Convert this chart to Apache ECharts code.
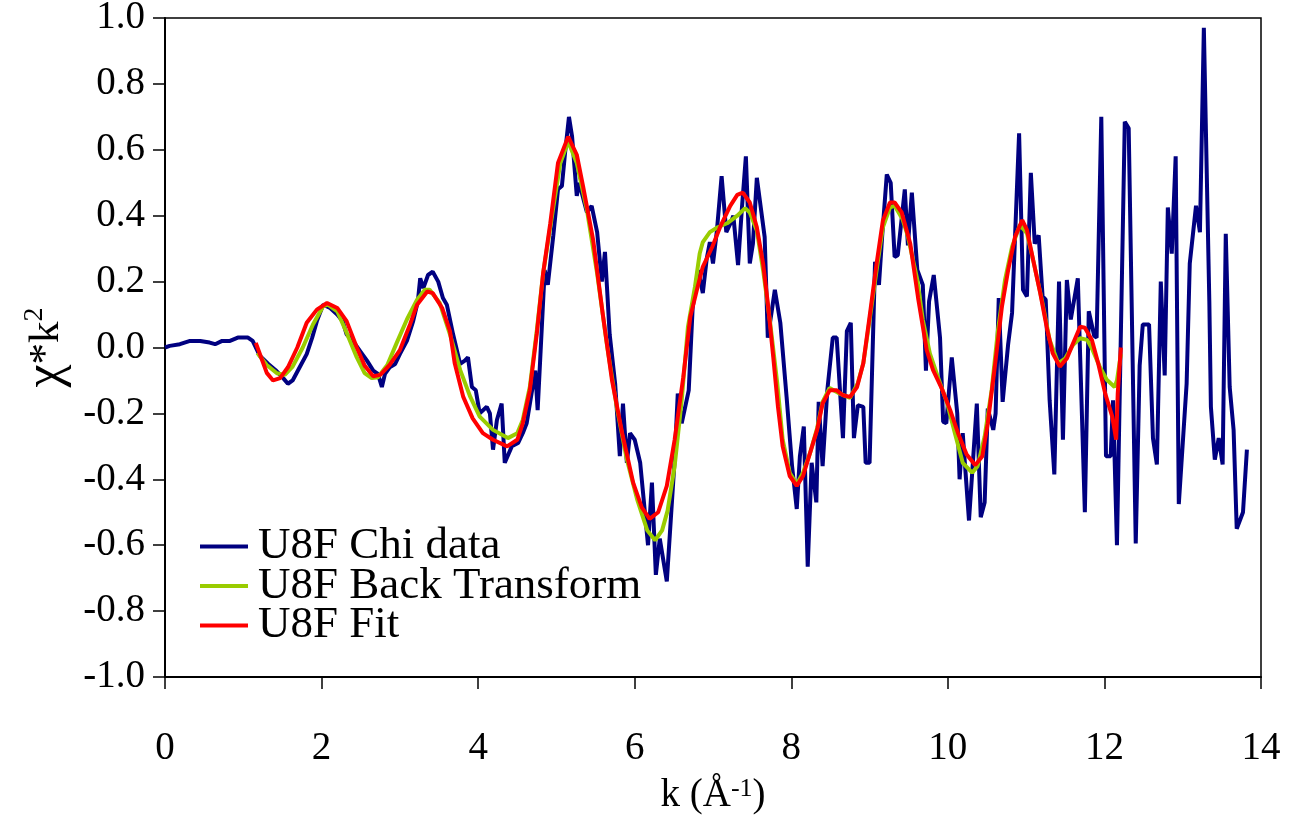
<!DOCTYPE html>
<html>
<head>
<meta charset="utf-8">
<script src="https://cdn.jsdelivr.net/npm/echarts@6/dist/echarts.min.js"></script>
<style>
html,body{margin:0;padding:0;background:#fff;overflow:hidden;}
#chart{width:1289px;height:816px;}
</style>
</head>
<body>
<div id="chart"></div>
<script>
// k (1/Å), chi*k^2
const chiData = [[0,0],[0.06,0.005],[0.19,0.01],[0.32,0.02],[0.45,0.02],[0.57,0.015],[0.64,0.01],[0.73,0.02],[0.83,0.02],[0.93,0.03],[1.06,0.03],[1.12,0.02],[1.21,-0.025],[1.32,-0.05],[1.41,-0.068],[1.51,-0.093],[1.57,-0.11],[1.63,-0.10],[1.72,-0.06],[1.81,-0.02],[1.88,0.03],[1.94,0.08],[2.02,0.13],[2.11,0.12],[2.20,0.10],[2.27,0.08],[2.32,0.04],[2.40,0.02],[2.49,-0.01],[2.58,-0.04],[2.66,-0.07],[2.72,-0.08],[2.77,-0.12],[2.81,-0.08],[2.87,-0.06],[2.94,-0.05],[3.00,-0.02],[3.09,0.02],[3.17,0.08],[3.23,0.14],[3.26,0.21],[3.30,0.18],[3.36,0.22],[3.42,0.23],[3.49,0.20],[3.55,0.15],[3.60,0.13],[3.68,0.04],[3.77,-0.05],[3.83,-0.04],[3.87,-0.03],[3.92,-0.12],[3.97,-0.13],[4.02,-0.20],[4.11,-0.18],[4.15,-0.20],[4.19,-0.31],[4.24,-0.22],[4.30,-0.17],[4.34,-0.35],[4.43,-0.30],[4.51,-0.29],[4.57,-0.26],[4.62,-0.23],[4.73,-0.07],[4.76,-0.19],[4.85,0.235],[4.89,0.19],[4.96,0.34],[5.02,0.48],[5.07,0.49],[5.11,0.59],[5.16,0.70],[5.20,0.64],[5.26,0.46],[5.29,0.50],[5.39,0.41],[5.45,0.43],[5.52,0.35],[5.58,0.20],[5.62,0.29],[5.68,0.04],[5.75,-0.11],[5.81,-0.33],[5.85,-0.17],[5.90,-0.35],[5.94,-0.26],[6.00,-0.28],[6.07,-0.35],[6.17,-0.60],[6.22,-0.41],[6.27,-0.69],[6.32,-0.58],[6.41,-0.71],[6.51,-0.34],[6.55,-0.14],[6.60,-0.23],[6.69,-0.13],[6.74,0.12],[6.81,0.235],[6.87,0.165],[6.92,0.27],[6.96,0.32],[7.00,0.255],[7.05,0.355],[7.11,0.52],[7.17,0.35],[7.22,0.375],[7.26,0.40],[7.32,0.25],[7.37,0.425],[7.42,0.58],[7.47,0.255],[7.51,0.315],[7.56,0.515],[7.66,0.335],[7.70,0.03],[7.79,0.175],[7.86,0.075],[7.94,-0.15],[8.01,-0.36],[8.07,-0.49],[8.11,-0.33],[8.16,-0.24],[8.21,-0.665],[8.26,-0.35],[8.32,-0.47],[8.35,-0.165],[8.40,-0.36],[8.46,-0.13],[8.53,0.03],[8.58,0.03],[8.66,-0.275],[8.71,0.05],[8.76,0.075],[8.80,-0.275],[8.85,-0.175],[8.92,-0.18],[8.95,-0.35],[9.00,-0.35],[9.07,0.26],[9.12,0.19],[9.16,0.335],[9.22,0.525],[9.27,0.50],[9.32,0.275],[9.36,0.28],[9.45,0.48],[9.49,0.31],[9.54,0.47],[9.61,0.235],[9.68,0.19],[9.72,-0.07],[9.76,0.14],[9.82,0.22],[9.90,0.03],[9.94,-0.225],[9.98,-0.23],[10.05,-0.03],[10.12,-0.20],[10.15,-0.40],[10.19,-0.26],[10.27,-0.525],[10.37,-0.17],[10.42,-0.515],[10.47,-0.47],[10.51,-0.185],[10.58,-0.25],[10.61,-0.20],[10.65,0.15],[10.70,-0.165],[10.77,0.01],[10.82,0.105],[10.91,0.65],[10.96,0.175],[11.01,0.155],[11.06,0.53],[11.11,0.315],[11.16,0.34],[11.21,0.155],[11.25,0.145],[11.30,-0.16],[11.36,-0.385],[11.42,0.20],[11.47,-0.28],[11.52,0.205],[11.57,0.085],[11.66,0.21],[11.75,-0.50],[11.80,0.11],[11.87,0.035],[11.90,0.03],[11.96,0.70],[12.02,-0.33],[12.08,-0.33],[12.11,-0.16],[12.16,-0.60],[12.26,0.685],[12.31,0.665],[12.40,-0.595],[12.45,-0.055],[12.49,0.07],[12.57,0.07],[12.62,-0.275],[12.67,-0.355],[12.72,0.20],[12.77,-0.085],[12.81,0.425],[12.86,0.285],[12.91,0.58],[12.95,-0.475],[13.05,-0.11],[13.09,0.255],[13.17,0.43],[13.22,0.35],[13.27,0.97],[13.34,0.14],[13.36,-0.18],[13.41,-0.34],[13.46,-0.275],[13.51,-0.355],[13.55,0.345],[13.60,-0.12],[13.65,-0.25],[13.69,-0.55],[13.77,-0.50],[13.82,-0.31]];

const backData = [[1.18,-0.017],[1.30,-0.053],[1.43,-0.078],[1.53,-0.083],[1.63,-0.058],[1.76,0.0],[1.89,0.07],[2.02,0.125],[2.08,0.13],[2.20,0.11],[2.32,0.045],[2.45,-0.03],[2.55,-0.078],[2.64,-0.093],[2.72,-0.09],[2.84,-0.053],[2.96,0.014],[3.09,0.085],[3.22,0.145],[3.32,0.175],[3.38,0.175],[3.51,0.135],[3.64,0.04],[3.77,-0.068],[3.90,-0.15],[4.02,-0.21],[4.19,-0.25],[4.38,-0.275],[4.50,-0.26],[4.57,-0.22],[4.66,-0.12],[4.75,0.053],[4.83,0.225],[4.96,0.425],[5.05,0.56],[5.15,0.625],[5.26,0.56],[5.39,0.417],[5.52,0.225],[5.65,0.0],[5.77,-0.18],[5.90,-0.34],[6.03,-0.46],[6.16,-0.555],[6.26,-0.585],[6.35,-0.555],[6.42,-0.495],[6.51,-0.36],[6.60,-0.16],[6.68,0.063],[6.77,0.185],[6.83,0.285],[6.87,0.32],[6.96,0.35],[7.06,0.365],[7.18,0.377],[7.31,0.40],[7.41,0.423],[7.47,0.41],[7.56,0.355],[7.64,0.235],[7.73,0.075],[7.82,-0.107],[7.89,-0.28],[7.98,-0.38],[8.07,-0.415],[8.15,-0.38],[8.24,-0.32],[8.33,-0.245],[8.40,-0.165],[8.49,-0.123],[8.62,-0.14],[8.75,-0.153],[8.85,-0.108],[8.92,-0.048],[9.00,0.083],[9.09,0.235],[9.17,0.365],[9.26,0.425],[9.32,0.43],[9.42,0.39],[9.49,0.337],[9.61,0.205],[9.68,0.084],[9.77,-0.018],[9.87,-0.088],[9.99,-0.168],[10.09,-0.26],[10.19,-0.35],[10.31,-0.38],[10.38,-0.36],[10.47,-0.27],[10.56,-0.128],[10.64,0.053],[10.73,0.205],[10.82,0.305],[10.92,0.372],[11.01,0.347],[11.09,0.265],[11.20,0.145],[11.30,0.023],[11.41,-0.048],[11.50,-0.033],[11.60,0.008],[11.69,0.028],[11.78,0.023],[11.85,-0.008],[11.94,-0.058],[12.03,-0.098],[12.13,-0.12],[12.16,-0.10],[12.21,-0.02]];

const fitData = [[1.16,0.014],[1.24,-0.038],[1.30,-0.077],[1.38,-0.10],[1.47,-0.093],[1.57,-0.06],[1.69,0.0],[1.81,0.075],[1.94,0.115],[2.07,0.135],[2.20,0.12],[2.32,0.08],[2.45,0.0],[2.55,-0.055],[2.66,-0.087],[2.75,-0.083],[2.87,-0.053],[3.00,-0.008],[3.13,0.07],[3.22,0.13],[3.35,0.17],[3.42,0.165],[3.54,0.12],[3.64,0.05],[3.70,-0.047],[3.81,-0.15],[3.93,-0.215],[4.06,-0.26],[4.19,-0.28],[4.37,-0.30],[4.50,-0.28],[4.57,-0.23],[4.66,-0.13],[4.75,0.043],[4.83,0.225],[4.92,0.375],[5.02,0.56],[5.15,0.64],[5.26,0.585],[5.34,0.49],[5.47,0.325],[5.59,0.105],[5.71,-0.10],[5.84,-0.26],[5.98,-0.41],[6.09,-0.485],[6.19,-0.52],[6.30,-0.50],[6.41,-0.42],[6.51,-0.28],[6.62,-0.09],[6.71,0.093],[6.81,0.19],[6.87,0.245],[6.99,0.305],[7.09,0.365],[7.22,0.43],[7.31,0.463],[7.38,0.47],[7.47,0.44],[7.56,0.365],[7.64,0.255],[7.70,0.135],[7.77,-0.03],[7.83,-0.18],[7.89,-0.30],[7.98,-0.39],[8.07,-0.42],[8.15,-0.39],[8.24,-0.32],[8.33,-0.25],[8.40,-0.17],[8.49,-0.13],[8.58,-0.13],[8.66,-0.145],[8.75,-0.15],[8.84,-0.12],[8.92,-0.048],[9.00,0.093],[9.09,0.255],[9.17,0.385],[9.26,0.44],[9.32,0.44],[9.41,0.41],[9.52,0.315],[9.62,0.15],[9.73,-0.008],[9.81,-0.068],[9.92,-0.123],[10.03,-0.19],[10.13,-0.26],[10.24,-0.325],[10.35,-0.357],[10.44,-0.33],[10.51,-0.23],[10.60,-0.058],[10.69,0.123],[10.77,0.235],[10.86,0.337],[10.95,0.387],[11.01,0.357],[11.09,0.265],[11.18,0.165],[11.27,0.053],[11.34,-0.018],[11.43,-0.058],[11.52,-0.033],[11.60,0.013],[11.69,0.063],[11.75,0.06],[11.84,0.023],[11.92,-0.048],[12.01,-0.14],[12.10,-0.21],[12.15,-0.28],[12.17,-0.14],[12.21,0.0]];

const seriesNames = ['U8F Chi data', 'U8F Back Transform', 'U8F Fit'];
const seriesColors = ['#000080', '#99CC00', '#FF0000'];
const xTickStep = 2, xMin = 0, xMax = 14;
const yTickStep = 0.2, yMin = -1, yMax = 1;

const FONT = "'Liberation Serif', 'DejaVu Serif', serif";
const chart = echarts.init(document.getElementById('chart'), null, {renderer: 'canvas'});
const datasets = [chiData, backData, fitData];

chart.setOption({
  animation: false,
  backgroundColor: '#fff',
  grid: {left: 165, right: 28, top: 18, bottom: 139, show: true, borderColor: '#000', borderWidth: 1.5,
         backgroundColor: 'transparent', containLabel: false, outerBoundsMode: 'none'},
  legend: {
    orient: 'vertical', left: 200, top: 524, itemGap: -5.5, padding: 0,
    icon: 'rect', itemWidth: 48, itemHeight: 4,
    textStyle: {fontFamily: FONT, fontSize: 45, color: '#000', lineHeight: 35, padding: [0, 0, 0, 5]},
    data: seriesNames
  },
  xAxis: {
    type: 'value', min: xMin, max: xMax, interval: xTickStep,
    axisLine: {onZero: false, lineStyle: {color: '#000', width: 2}},
    axisTick: {show: true, inside: false, length: 12, lineStyle: {color: '#000', width: 1.5}},
    splitLine: {show: false},
    axisLabel: {fontFamily: FONT, fontSize: 39, color: '#000', margin: 52},
    name: '{t|k (Å}{s|-1}{t|)}',
    nameLocation: 'middle', nameGap: 99,
    nameTextStyle: {fontFamily: FONT, fontSize: 39, color: '#000',
      rich: {t: {fontFamily: FONT, fontSize: 39, color: '#000', lineHeight: 40},
             s: {fontFamily: FONT, fontSize: 26, color: '#000', verticalAlign: 'top', lineHeight: 40}}}
  },
  yAxis: {
    type: 'value', min: yMin, max: yMax, interval: yTickStep,
    axisLine: {show: true, onZero: false, lineStyle: {color: '#000', width: 2}},
    axisTick: {show: true, inside: false, length: 12, lineStyle: {color: '#000', width: 1.5}},
    splitLine: {show: false},
    axisLabel: {fontFamily: FONT, fontSize: 39, color: '#000', margin: 20,
      formatter: v => v.toFixed(1)},
    name: '{g|χ}{t|*k}{s|2}',
    nameLocation: 'middle', nameRotate: 90, nameGap: 92,
    nameTextStyle: {fontFamily: FONT, fontSize: 44, color: '#000',
      rich: {g: {fontFamily: FONT, fontSize: 52, color: '#000', lineHeight: 52},
             t: {fontFamily: FONT, fontSize: 43, color: '#000', lineHeight: 52},
             s: {fontFamily: FONT, fontSize: 28, color: '#000', verticalAlign: 'top', lineHeight: 52}}}
  },
  series: datasets.map((d, i) => ({
    name: seriesNames[i], type: 'line', data: d,
    showSymbol: false, symbol: 'none', smooth: false,
    lineStyle: {color: seriesColors[i], width: 4},
    itemStyle: {color: seriesColors[i]},
    z: 2 + i
  }))
});
</script>
</body>
</html>
